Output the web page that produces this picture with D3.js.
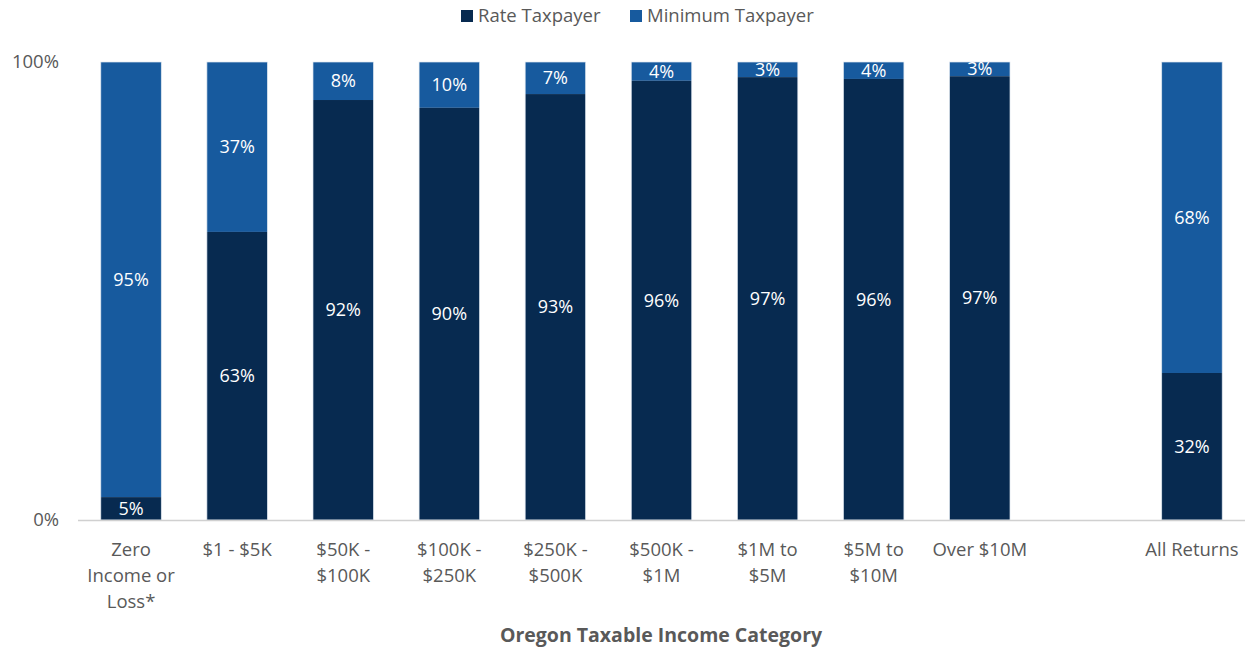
<!DOCTYPE html>
<html>
<head>
<meta charset="utf-8">
<script src="https://cdn.jsdelivr.net/npm/d3@7"></script>
<style>
  body { margin: 0; background: #fff; }
  text { font-family: "Open Sans", sans-serif; }
</style>
</head>
<body>
<div id="chart"></div>
<script>
// categories ("" is the empty slot before All Returns), lines split by "|"
var categories = ["Zero|Income or|Loss*", "$1 - $5K", "$50K -|$100K", "$100K -|$250K", "$250K -|$500K",
    "$500K -|$1M", "$1M to|$5M", "$5M to|$10M", "Over $10M", "", "All Returns"];
var rateShare = [5.0, 62.9, 91.7, 90.0, 93.0, 95.9, 96.7, 96.3, 96.9, null, 32.1];
var minShare = [95.0, 37.1, 8.3, 10.0, 7.0, 4.1, 3.3, 3.7, 3.1, null, 67.9];
var rateLabels = ["5%", "63%", "92%", "90%", "93%", "96%", "97%", "96%", "97%", "", "32%"];
var minLabels = ["95%", "37%", "8%", "10%", "7%", "4%", "3%", "4%", "3%", "", "68%"];
var yTicks = [0, 100];
var seriesNames = ["Rate Taxpayer", "Minimum Taxpayer"];

var width = 1250,
    height = 649;

var color = ["#072a50", "#175a9e"];

var svg = d3.select("#chart").append("svg")
    .attr("width", width)
    .attr("height", height);

var x = d3.scaleBand()
    .domain(d3.range(categories.length))
    .range([78, 1245])
    .paddingInner(0.43)
    .paddingOuter(0.215);

var y = d3.scaleLinear()
    .domain([0, 100])
    .range([520, 62]);

var rows = categories.map(function (c, i) {
    return { i: i, rate: rateShare[i], min: minShare[i] };
}).filter(function (d) { return d.rate != null; });

// minimum taxpayer segments (top)
svg.append("g")
    .selectAll("rect")
    .data(rows)
    .enter().append("rect")
    .attr("x", d => x(d.i))
    .attr("width", x.bandwidth())
    .attr("y", d => y(d.rate + d.min))
    .attr("height", d => y(d.rate) - y(d.rate + d.min))
    .attr("fill", color[1]);

// rate taxpayer segments (bottom)
svg.append("g")
    .selectAll("rect")
    .data(rows)
    .enter().append("rect")
    .attr("x", d => x(d.i))
    .attr("width", x.bandwidth())
    .attr("y", d => y(d.rate))
    .attr("height", d => y(0) - y(d.rate))
    .attr("fill", color[0]);

// thin light outline round each bar
svg.append("g")
    .selectAll("rect")
    .data(rows)
    .enter().append("rect")
    .attr("x", d => x(d.i))
    .attr("width", x.bandwidth())
    .attr("y", d => y(d.rate + d.min))
    .attr("height", d => y(0) - y(d.rate + d.min))
    .attr("fill", "none")
    .attr("stroke", "#dfe7f0")
    .attr("stroke-width", 0.7);

// value labels
var lab = svg.append("g")
    .attr("fill", "#fff")
    .attr("text-anchor", "middle")
    .style("font-size", "18px");

lab.selectAll(".rl")
    .data(rows)
    .enter().append("text")
    .attr("x", d => x(d.i) + x.bandwidth() / 2)
    .attr("y", d => y(d.rate / 2))
    .attr("dy", "0.35em")
    .text(d => rateLabels[d.i]);

lab.selectAll(".ml")
    .data(rows)
    .enter().append("text")
    .attr("x", d => x(d.i) + x.bandwidth() / 2)
    .attr("y", d => y(d.rate + d.min / 2))
    .attr("dy", "0.35em")
    .text(d => minLabels[d.i]);

// baseline
svg.append("line")
    .attr("x1", 78)
    .attr("x2", 1245)
    .attr("y1", y(0) + 0.5)
    .attr("y2", y(0) + 0.5)
    .attr("stroke", "#d0d0d0")
    .attr("stroke-width", 1.5);

// y ticks
svg.append("g")
    .selectAll("text")
    .data(yTicks)
    .enter().append("text")
    .attr("x", 59)
    .attr("y", d => y(d))
    .attr("dy", "0.35em")
    .attr("text-anchor", "end")
    .attr("fill", "#595959")
    .style("font-size", "18.5px")
    .text(d => d + "%");

// x labels
var xl = svg.append("g")
    .attr("fill", "#595959")
    .attr("text-anchor", "middle")
    .style("font-size", "18.5px")
    .selectAll("text")
    .data(categories)
    .enter().append("text")
    .attr("x", (d, i) => x(i) + x.bandwidth() / 2)
    .attr("y", 556);

xl.selectAll("tspan")
    .data(d => d ? d.split("|") : [])
    .enter().append("tspan")
    .attr("x", function () { return this.parentNode.getAttribute("x"); })
    .attr("dy", (d, i) => i ? 26 : 0)
    .text(d => d);

// axis title
svg.append("text")
    .attr("x", 661)
    .attr("y", 642)
    .attr("text-anchor", "middle")
    .attr("fill", "#595959")
    .attr("font-weight", "bold")
    .style("font-size", "19.5px")
    .text("Oregon Taxable Income Category");

// legend
legend(461, 10, seriesNames[0], color[0]);
legend(630, 10, seriesNames[1], color[1]);

function legend(lx, ly, text, c) {
    svg.append("rect")
        .attr("x", lx)
        .attr("y", ly)
        .attr("width", 12)
        .attr("height", 12)
        .attr("fill", c);
    svg.append("text")
        .attr("x", lx + 17)
        .attr("y", ly + 6)
        .attr("dy", "0.35em")
        .attr("fill", "#595959")
        .style("font-size", "18.5px")
        .text(text);
}
</script>
</body>
</html>
